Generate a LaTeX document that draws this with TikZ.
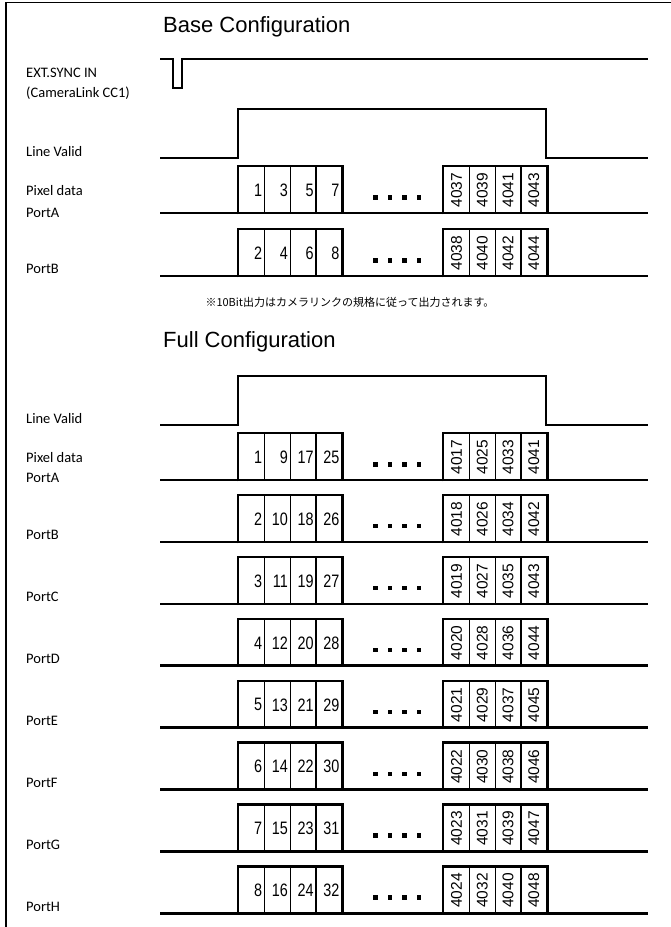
\documentclass[tikz,border=0pt]{standalone}
\usepackage{fontspec}
\setmainfont{Carlito}
\newfontfamily\ttlfont{Liberation Sans}
\newfontfamily\numfont[FakeStretch=0.8]{Liberation Sans}
\newfontfamily\jpfont{Noto Sans CJK JP}

\tikzset{
  wave/.style={line width=2.6pt},
  grp/.style={line width=2.2pt},
  cell/.style={draw, line width=1.4pt, minimum width=25.75pt, minimum height=47pt,
    inner xsep=1.5pt, inner ysep=0pt, text width=21pt, align=right, anchor=north west,
    font=\numfont\fontsize{18}{18}\selectfont},
  vnum/.style={rotate=90, inner sep=0pt, font=\ttlfont\fontsize{15.5}{15.5}\selectfont},
  lbl/.style={anchor=base west, inner sep=0pt, font=\fontsize{14.5}{16}\selectfont},
  ttl/.style={anchor=base west, inner sep=0pt, font=\ttlfont\fontsize{22}{24}\selectfont},
}

% one port: #1 prefix, #2 label, #3 top, #4 first pixel, #5 step, #6 first pixel at line end, #7 label shift
\newcommand{\datarow}[7]{%
  \pgfmathsetmacro{\rowbot}{#3+47}
  \foreach \k in {0,...,3}{
    \pgfmathtruncatemacro{\pl}{#4+#5*\k}
    \pgfmathtruncatemacro{\pr}{#6+#5*\k}
    \node[cell] (#1l\k) at ({238+25.75*\k},#3) {\raisebox{-2.5pt}{\pl}};
    \node[cell, label={[vnum]center:\pr}] (#1r\k) at ({443+25.75*\k},#3) {};
    \fill ({373+14.5*\k},{#3+29}) rectangle ++(4.5,4.5);
  }
  \draw[grp] (#1l0.south west) |- (#1l3.north east) -- (#1l3.south east);
  \draw[grp] (#1r0.south west) |- (#1r3.north east) -- (#1r3.south east);
  \draw[wave] (160,\rowbot) -- (648,\rowbot);
  \node[lbl] (#1lab) at (26,{\rowbot+(#7)}) {#2};
}

\begin{document}
\begin{tikzpicture}[x=1pt, y=-1pt]
    \useasboundingbox (0,0) rectangle (671,927);

    % Frame
    \draw[line width=1.3pt] (6,927) -- (6,2.5) -- (671,2.5);

    % Base Configuration
    \node[ttl] (basettl) at (163,32) {Base Configuration};
    \node[lbl] (synclab) at (26,77) {EXT.SYNC IN};
    \node[lbl] (cclab) at (26,97) {(CameraLink CC1)};
    \draw[line width=1.8pt] (160,59) -- (173,59) -- (173,88) -- (182,88) -- (182,59) -- (648,59);

    \node[lbl] (blv) at (26,156) {Line Valid};
    \draw[wave] (160,158) -- (238,158) -- (238,109) -- (546,109) -- (546,158) -- (648,158);

    \node[lbl] (bpix) at (26,195) {Pixel data};
    \datarow{bA}{PortA}{166}{1}{2}{4037}{4}
    \datarow{bB}{PortB}{229}{2}{2}{4038}{-3}

    \node[font=\jpfont\fontsize{11}{12}\selectfont] (note) at (350,302)
      {※10Bit出力はカメラリンクの規格に従って出力されます。};

    % Full Configuration
    \node[ttl] (fullttl) at (163,347) {Full Configuration};
    \node[lbl] (flv) at (26,423) {Line Valid};
    \draw[wave] (160,425) -- (238,425) -- (238,376) -- (546,376) -- (546,425) -- (648,425);

    \node[lbl] (fpix) at (26,462) {Pixel data};
    \foreach \p [count=\i from 0] in {A,B,C,D,E,F,G,H}{
      \pgfmathsetmacro{\ft}{433+61.9*\i}
      \pgfmathtruncatemacro{\fa}{\i+1}
      \pgfmathtruncatemacro{\fb}{4017+\i}
      \pgfmathsetmacro{\off}{\i==0 ? 2 : -2}
      \datarow{f\p}{Port\p}{\ft}{\fa}{8}{\fb}{\off}
    }
\end{tikzpicture}
\end{document}
